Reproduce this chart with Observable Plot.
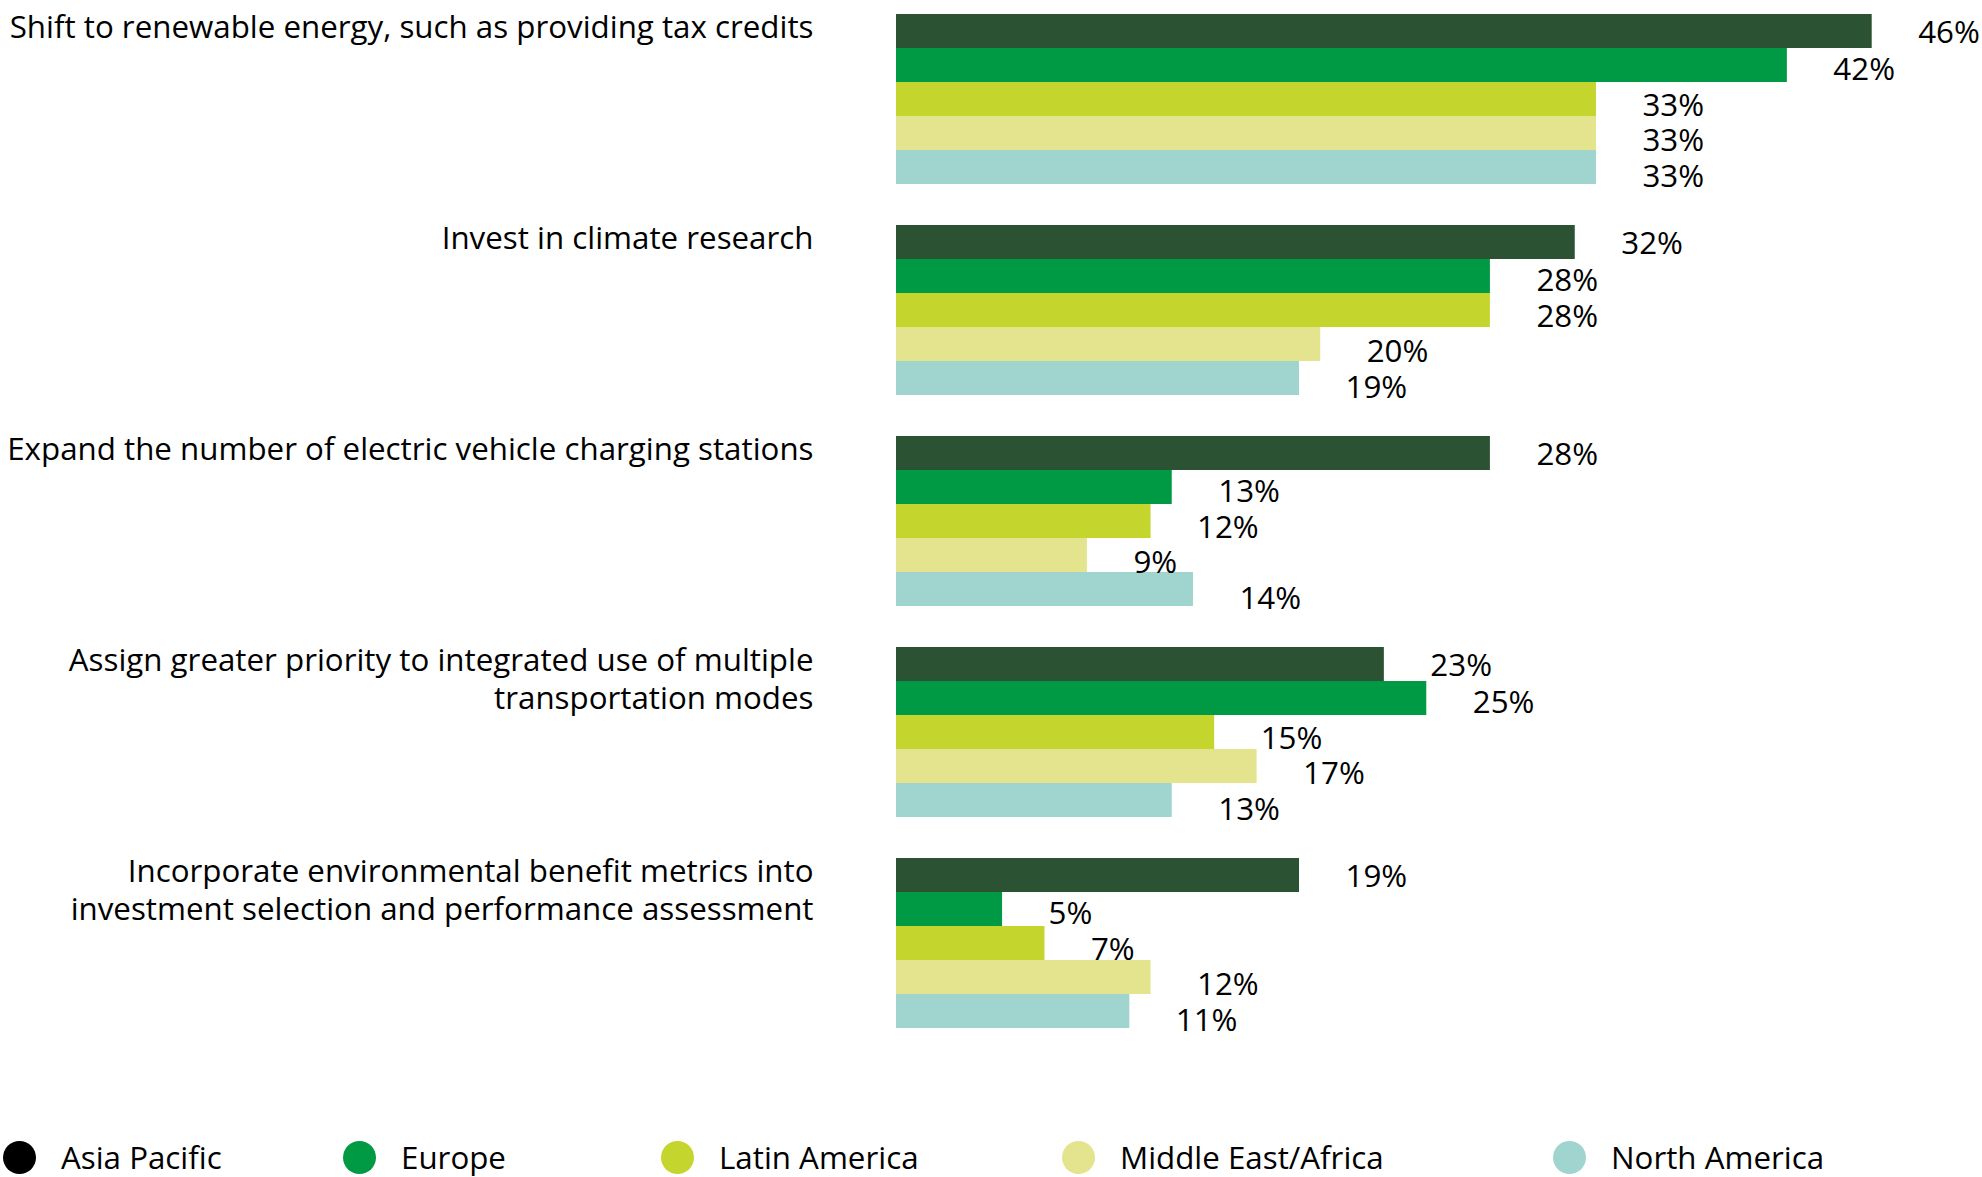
<!DOCTYPE html>
<html>
<head>
<meta charset="utf-8">
<script src="https://cdn.jsdelivr.net/npm/d3@7"></script>
<script src="https://cdn.jsdelivr.net/npm/@observablehq/plot@0.6"></script>
<style>
  html, body { margin: 0; padding: 0; background: #fff; }
  body { width: 1982px; height: 1177px; overflow: hidden; font-family: "Open Sans", sans-serif; color: #000; }
  #legend { position: relative; height: 117px; width: 1982px; }
  .item { position: absolute; top: 78px; display: flex; align-items: center; font-size: 31.3px; line-height: 38px; white-space: nowrap; }
  .sw { width: 33px; height: 33px; border-radius: 50%; margin-right: 25px; flex: none; }
</style>
</head>
<body>
<div id="chart"></div>
<div id="legend"></div>
<script>
// ---- data ----
const categories = [
  "Shift to renewable energy, such as providing tax credits",
  "Invest in climate research",
  "Expand the number of electric vehicle charging stations",
  "Assign greater priority to integrated use of multiple\ntransportation modes",
  "Incorporate environmental benefit metrics into\ninvestment selection and performance assessment"
];
const regions = ["Asia Pacific", "Europe", "Latin America", "Middle East/Africa", "North America"];
const asiaPacific      = [46, 32, 28, 23, 19];
const europe           = [42, 28, 13, 25, 5];
const latinAmerica     = [33, 28, 12, 15, 7];
const middleEastAfrica = [33, 20, 9, 17, 12];
const northAmerica     = [33, 19, 14, 13, 11];

// ---- styles ----
const barColors = ["#2c5234", "#009a44", "#c4d62e", "#e3e48d", "#a0d4cf"];
const legendColors = ["#000000", "#009a44", "#c4d62e", "#e3e48d", "#a0d4cf"];
const legendLeft = [3, 343, 661, 1062, 1553];
const labelDy = [1, 4, 6, 7, 9];
const FS = 31.3;

const series = [asiaPacific, europe, latinAmerica, middleEastAfrica, northAmerica];
const rows = categories.flatMap((c, i) =>
  regions.map((r, j) => ({category: c, region: r, value: series[j][i]}))
);

const chart = Plot.plot({
  width: 1982,
  height: 1060,
  marginLeft: 896,
  marginRight: 0,
  marginTop: 12,
  marginBottom: 30,
  style: {fontFamily: "'Open Sans', sans-serif", fontSize: FS + "px", color: "#000", background: "#fff"},
  x: {domain: [0, 51.2], axis: null},
  y: {domain: regions, padding: 0, axis: null},
  fy: {domain: categories, paddingInner: 0.187, paddingOuter: 0, axis: null},
  color: {domain: regions, range: barColors},
  marks: [
    Plot.barX(rows, {x: "value", y: "region", fy: "category", fill: "region"}),
    ...regions.map((r, j) => Plot.text(rows.filter(d => d.region === r), {
      x: "value", y: "region", fy: "category",
      text: d => d.value + "%",
      textAnchor: "start", dx: 46, dy: labelDy[j],
      fontSize: FS, fill: "#000"
    })),
    Plot.text(categories, {
      fy: d => d, text: d => d,
      frameAnchor: "top-left", textAnchor: "end", lineAnchor: "top",
      dx: -83, dy: -3, fontSize: FS, lineHeight: 1.22, fill: "#000"
    })
  ]
});
document.getElementById("chart").appendChild(chart);

const legend = document.getElementById("legend");
regions.forEach((r, i) => {
  const item = document.createElement("div");
  item.className = "item";
  item.style.left = legendLeft[i] + "px";
  const sw = document.createElement("span");
  sw.className = "sw";
  sw.style.background = legendColors[i];
  const t = document.createElement("span");
  t.textContent = r;
  item.appendChild(sw);
  item.appendChild(t);
  legend.appendChild(item);
});
</script>
</body>
</html>
